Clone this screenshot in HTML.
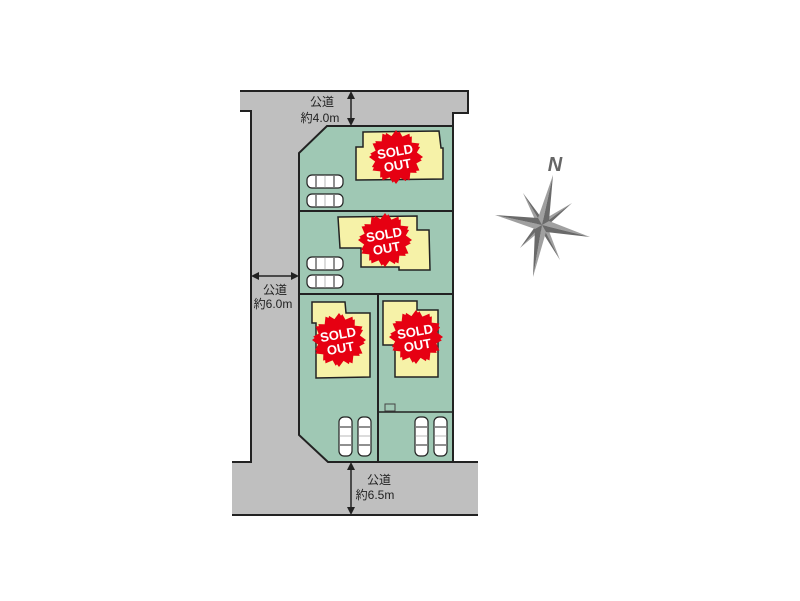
<!DOCTYPE html>
<html><head><meta charset="utf-8"><style>html,body{margin:0;padding:0;background:#fff}svg{display:block}</style></head>
<body>
<svg width="800" height="601" viewBox="0 0 800 601" xmlns="http://www.w3.org/2000/svg" font-family="Liberation Sans, Noto Sans CJK JP, sans-serif">
<defs>
<polygon id="star" points="25,0 18.4,4.9 21.7,12.5 13.4,13.4 12.5,21.7 4.9,18.4 0,25 -4.9,18.4 -12.5,21.7 -13.4,13.4 -21.7,12.5 -18.4,4.9 -25,0 -18.4,-4.9 -21.7,-12.5 -13.4,-13.4 -12.5,-21.7 -4.9,-18.4 0,-25 4.9,-18.4 12.5,-21.7 13.4,-13.4 21.7,-12.5 18.4,-4.9" fill="#e60012"/>
<g id="badge"><use href="#star" transform="scale(1.08)"/><use href="#star" transform="rotate(7.5) scale(1.04)"/><g transform="rotate(-10)" fill="#fff" font-weight="bold" font-size="13" text-anchor="middle"><text x="0" y="-1">SOLD</text><text x="0" y="13">OUT</text></g></g>
<g id="carh"><rect x="0" y="0" width="36" height="13" rx="5" fill="#fff" stroke="#222" stroke-width="1.2"/><line x1="9" y1="1" x2="9" y2="12" stroke="#222"/><line x1="27" y1="1" x2="27" y2="12" stroke="#222"/><line x1="18" y1="0" x2="18" y2="13" stroke="#888" stroke-width="0.6"/></g>
<g id="carv"><rect x="0" y="0" width="13" height="39" rx="5" fill="#fff" stroke="#222" stroke-width="1.2"/><line x1="1" y1="10" x2="12" y2="10" stroke="#222"/><line x1="1" y1="28" x2="12" y2="28" stroke="#222"/><line x1="0" y1="19" x2="13" y2="19" stroke="#888" stroke-width="0.6"/></g>
</defs>
<!-- roads -->
<path d="M240,91 H468 V113 H453 V126 H327 L299,153 V435 L328,462 H478 V515 H232 V462 H251 V111 H240 Z" fill="#bfbfbf"/>
<path d="M240,91 H468 V113 H453 V126" fill="none" stroke="#222" stroke-width="2"/>
<path d="M240,111 H251 V462 H232" fill="none" stroke="#222" stroke-width="2"/>
<path d="M232,515 H478" fill="none" stroke="#222" stroke-width="2"/>
<path d="M453,462 H478" fill="none" stroke="#222" stroke-width="2"/>
<!-- lot -->
<path d="M327,126 H453 V462 H328 L299,435 V153 Z" fill="#9fc8b4" stroke="#222" stroke-width="2"/>
<line x1="299" y1="211" x2="453" y2="211" stroke="#222" stroke-width="2"/>
<line x1="299" y1="294" x2="453" y2="294" stroke="#222" stroke-width="2"/>
<line x1="378" y1="294" x2="378" y2="462" stroke="#222" stroke-width="2"/>
<line x1="378" y1="412" x2="453" y2="412" stroke="#222" stroke-width="1.5"/>
<rect x="385" y="404" width="10" height="7" fill="none" stroke="#444" stroke-width="1"/>
<!-- houses -->
<g fill="#f6f2a8" stroke="#222" stroke-width="1.5">
<polygon points="363,132 439,131 441,148 443,148 443,179 356,180 356,147 363,147"/>
<polygon points="338,217 417,216 417,230 429,230 430,270 399,270 399,267 361,267 361,248 340,248"/>
<polygon points="312,302 345,302 346,313 370,313 370,377 316,378 316,323 312,323"/>
<polygon points="383,301 417,301 417,310 438,310 438,377 395,377 395,345 383,345"/>
</g>
<use href="#badge" transform="translate(396,157)"/>
<use href="#badge" transform="translate(385,240)"/>
<use href="#badge" transform="translate(339,340)"/>
<use href="#badge" transform="translate(416,337)"/>
<!-- cars -->
<use href="#carh" x="307" y="175"/><use href="#carh" x="307" y="194"/>
<use href="#carh" x="307" y="257"/><use href="#carh" x="307" y="275"/>
<use href="#carv" x="339" y="417"/><use href="#carv" x="358" y="417"/>
<use href="#carv" x="415" y="417"/><use href="#carv" x="434" y="417"/>
<!-- arrows -->
<g stroke="#222" stroke-width="1.5" fill="#222">
<line x1="351" y1="94" x2="351" y2="123"/><polygon points="351,91 347,99 355,99" stroke="none"/><polygon points="351,126 347,118 355,118" stroke="none"/>
<line x1="254" y1="276" x2="296" y2="276"/><polygon points="251,276 259,272 259,280" stroke="none"/><polygon points="299,276 291,272 291,280" stroke="none"/>
<line x1="351" y1="465" x2="351" y2="512"/><polygon points="351,462 347,470 355,470" stroke="none"/><polygon points="351,515 347,507 355,507" stroke="none"/>
</g>
<g font-size="12" fill="#222" text-anchor="middle">
<text x="322" y="106">公道</text><text x="320" y="122">約4.0m</text>
<text x="275" y="294">公道</text><text x="273" y="308">約6.0m</text>
<text x="379" y="484">公道</text><text x="375" y="499">約6.5m</text>
</g>
<!-- compass -->
<g>
<polygon points="542,225 572,203 543,220" fill="#a0a0a0"/><polygon points="542,225 572,203 547,226" fill="#6a6a6a"/>
<polygon points="542,225 560,260 547,226" fill="#a0a0a0"/><polygon points="542,225 560,260 541,230" fill="#6a6a6a"/>
<polygon points="542,225 520,248 541,230" fill="#a0a0a0"/><polygon points="542,225 520,248 537,224" fill="#6a6a6a"/>
<polygon points="542,225 523,193 537,224" fill="#a0a0a0"/><polygon points="542,225 523,193 543,220" fill="#6a6a6a"/>
<polygon points="542,225 553,175 538,218" fill="#a0a0a0"/><polygon points="542,225 553,175 549,221" fill="#6a6a6a"/>
<polygon points="542,225 590,237 549,221" fill="#a0a0a0"/><polygon points="542,225 590,237 546,232" fill="#6a6a6a"/>
<polygon points="542,225 533,277 546,232" fill="#a0a0a0"/><polygon points="542,225 533,277 535,229" fill="#6a6a6a"/>
<polygon points="542,225 495,215 535,229" fill="#a0a0a0"/><polygon points="542,225 495,215 538,218" fill="#6a6a6a"/>
<text x="555" y="171" font-size="20" font-weight="bold" font-style="italic" fill="#666" text-anchor="middle">N</text>
</g>
</svg>
</body></html>
